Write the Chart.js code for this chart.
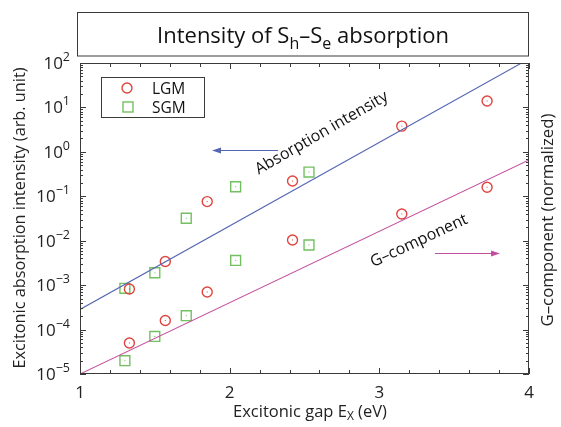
<!DOCTYPE html>
<html>
<head>
<meta charset="utf-8">
<script src="https://cdn.jsdelivr.net/npm/chart.js@4"></script>
<style>
html, body { margin: 0; padding: 0; background: #fff; }
canvas { display: block; }
</style>
</head>
<body>
<canvas id="chart" width="561" height="427"></canvas>
<script>
const FONT = '"Open Sans", "DejaVu Sans", sans-serif';
const RED = '#e0443f', GREEN = '#72c060', BLUE = '#5567b3', PINK = '#c24f9e', INK = '#3a3a3a';

// LGM: upper points = absorption intensity, lower points = G-component
const lgmGap = [1.33, 1.57, 1.85, 2.42, 3.15, 3.72];
const lgmAbsorption = [8.2e-4, 3.4e-3, 7.6e-2, 0.22, 3.8, 14];
const lgmGComponent = [5.0e-5, 1.6e-4, 7.0e-4, 1.04e-2, 4.0e-2, 0.16];

// SGM
const sgmGap = [1.30, 1.50, 1.71, 2.04, 2.53];
const sgmAbsorption = [8.5e-4, 1.9e-3, 3.2e-2, 0.164, 0.35];
const sgmGComponent = [2.0e-5, 7.0e-5, 2.06e-4, 3.6e-3, 8.0e-3];

// straight-line fits on the log scale
const fitGap = [1, 4];
const absorptionFit = [2.83e-4, 124];
const gComponentFit = [1.0e-5, 0.66];

const xTicks = [1, 2, 3, 4];
const yDecades = [-5, -4, -3, -2, -1, 0, 1, 2];

const pts = (xs, ys) => xs.map((x, i) => ({ x, y: ys[i] }));

// draws a run of [text, size, dy] pieces, so sub/superscripts sit inline
function rich(ctx, parts, x, y, align) {
  let w = 0;
  for (const p of parts) { ctx.font = p[1] + 'px ' + FONT; w += ctx.measureText(p[0]).width; }
  let cx = align === 'center' ? x - w / 2 : align === 'right' ? x - w : x;
  ctx.textAlign = 'left';
  for (const p of parts) {
    ctx.font = p[1] + 'px ' + FONT;
    ctx.fillText(p[0], cx, y + (p[2] || 0));
    cx += ctx.measureText(p[0]).width;
  }
}

function arrow(ctx, x0, x1, y, color) {
  const dir = Math.sign(x1 - x0);
  ctx.strokeStyle = color; ctx.fillStyle = color; ctx.lineWidth = 1.2;
  ctx.beginPath(); ctx.moveTo(x0, y); ctx.lineTo(x1 - dir * 6, y); ctx.stroke();
  ctx.beginPath(); ctx.moveTo(x1, y); ctx.lineTo(x1 - dir * 9, y - 3); ctx.lineTo(x1 - dir * 9, y + 3); ctx.closePath(); ctx.fill();
}

const decorations = {
  id: 'decorations',
  afterDatasetsDraw(chart) {
    const ctx = chart.ctx;
    [[2, RED], [3, GREEN], [4, RED], [5, GREEN]].forEach(([i, c]) => {
      ctx.fillStyle = c;
      chart.getDatasetMeta(i).data.forEach(p => ctx.fillRect(p.x - 0.5, p.y - 0.5, 1, 1));
    });
  },
  afterDraw(chart) {
    const { ctx, chartArea: a, scales: { x, y } } = chart;
    ctx.save();

    // frame
    ctx.strokeStyle = INK; ctx.lineWidth = 1;
    ctx.strokeRect(a.left + 0.5, a.top + 0.5, a.right - a.left - 1, a.bottom - a.top - 1);

    // inward ticks, all four sides
    ctx.beginPath();
    for (let d = -5; d < 2; d++) {
      for (let m = 1; m < 10; m++) {
        const py = Math.round(y.getPixelForValue(m * Math.pow(10, d))) + 0.5;
        const len = m === 1 ? 6 : 3;
        ctx.moveTo(a.left, py); ctx.lineTo(a.left + len, py);
        ctx.moveTo(a.right, py); ctx.lineTo(a.right - len, py);
      }
    }
    for (let i = 0; i <= 15; i++) {
      const px = Math.round(x.getPixelForValue(1 + i * 0.2)) + 0.5;
      const len = i % 5 === 0 ? 6 : 4;
      ctx.moveTo(px, a.bottom); ctx.lineTo(px, a.bottom - len);
      ctx.moveTo(px, a.top); ctx.lineTo(px, a.top + len);
    }
    ctx.stroke();

    // tick labels
    ctx.fillStyle = '#222';
    ctx.textBaseline = 'alphabetic';
    yDecades.forEach(d => {
      const py = y.getPixelForValue(Math.pow(10, d));
      const exp = d < 0 ? '\u2212' + (-d) : String(d);
      rich(ctx, [['10', 17], [exp, 12.5, -8]], 70, py + 6, 'right');
    });
    xTicks.forEach(v => rich(ctx, [[String(v), 17]], x.getPixelForValue(v), 398, 'center'));

    // axis titles
    rich(ctx, [['Excitonic gap E', 16.5], ['X', 12, 3], [' (eV)', 16.5]], 310, 417, 'center');
    ctx.save();
    ctx.translate(25, 218); ctx.rotate(-Math.PI / 2);
    rich(ctx, [['Excitonic absorption intensity (arb. unit)', 16.3]], 0, 0, 'center');
    ctx.restore();
    ctx.save();
    ctx.translate(553, 220); ctx.rotate(-Math.PI / 2);
    rich(ctx, [['G\u2013component (normalized)', 16.8]], 0, 0, 'center');
    ctx.restore();

    // title box
    ctx.fillStyle = '#fff';
    ctx.fillRect(77, 12, 451, 44);
    ctx.strokeStyle = INK;
    ctx.strokeRect(77.5, 12.5, 451, 43.5);
    ctx.fillStyle = '#111';
    rich(ctx, [['Intensity of S', 22], ['h', 16, 6], ['\u2013S', 22], ['e', 16, 6], [' absorption', 22]], 303, 43, 'center');

    // legend
    ctx.fillStyle = '#fff';
    ctx.fillRect(101, 77, 104, 40);
    ctx.strokeRect(101.5, 77.5, 103, 40);
    ctx.lineWidth = 1.4;
    ctx.strokeStyle = RED;
    ctx.beginPath(); ctx.arc(127, 88, 5, 0, Math.PI * 2); ctx.stroke();
    ctx.strokeStyle = GREEN;
    ctx.strokeRect(123, 102, 10, 10);
    ctx.fillStyle = '#111';
    rich(ctx, [['LGM', 15.5]], 152, 93.5, 'left');
    rich(ctx, [['SGM', 15.5]], 152, 112.5, 'left');

    // annotations along the fits
    ctx.fillStyle = '#111';
    ctx.save();
    ctx.translate(324, 137); ctx.rotate(-30 * Math.PI / 180);
    rich(ctx, [['Absorption intensity', 16]], 0, 0, 'center');
    ctx.restore();
    ctx.save();
    ctx.translate(421, 245); ctx.rotate(-25 * Math.PI / 180);
    rich(ctx, [['G\u2013component', 16]], 0, 0, 'center');
    ctx.restore();

    arrow(ctx, 278, 212, 150.5, BLUE);
    arrow(ctx, 435, 500, 253.5, PINK);

    ctx.restore();
  }
};

const marker = (color, style, r) => ({
  pointStyle: style, pointRadius: r, pointBorderColor: color, pointBackgroundColor: 'rgba(0,0,0,0)',
  pointBorderWidth: 1.4, showLine: false
});

new Chart(document.getElementById('chart'), {
  type: 'scatter',
  data: {
    datasets: [
      { label: 'Absorption intensity', data: pts(fitGap, absorptionFit), showLine: true, borderColor: BLUE, borderWidth: 1.1, pointRadius: 0 },
      { label: 'G-component', data: pts(fitGap, gComponentFit), showLine: true, borderColor: PINK, borderWidth: 1.1, pointRadius: 0 },
      { label: 'LGM', data: pts(lgmGap, lgmAbsorption), ...marker(RED, 'circle', 5) },
      { label: 'SGM', data: pts(sgmGap, sgmAbsorption), ...marker(GREEN, 'rect', 7) },
      { label: 'LGM G', data: pts(lgmGap, lgmGComponent), ...marker(RED, 'circle', 5) },
      { label: 'SGM G', data: pts(sgmGap, sgmGComponent), ...marker(GREEN, 'rect', 7) }
    ]
  },
  options: {
    responsive: false,
    animation: false,
    layout: { padding: { left: 80, right: 32, top: 63, bottom: 53 } },
    plugins: { legend: { display: false }, tooltip: { enabled: false } },
    scales: {
      x: { type: 'linear', min: 1, max: 4, display: false },
      y: { type: 'logarithmic', min: 1e-5, max: 100, display: false }
    }
  },
  plugins: [decorations]
});
</script>
</body>
</html>
